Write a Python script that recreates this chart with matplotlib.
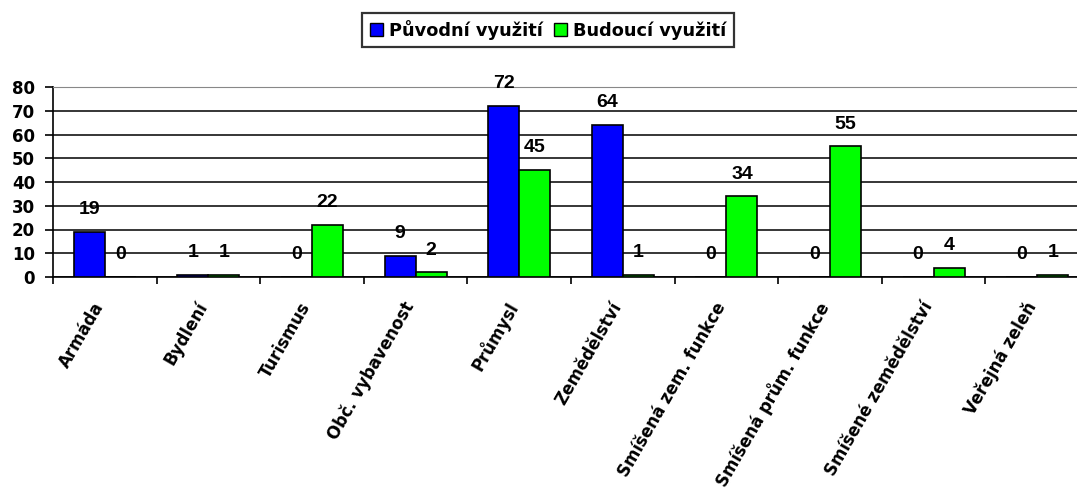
import matplotlib
matplotlib.use("Agg")
import matplotlib.pyplot as plt
import matplotlib.transforms as mtransforms
import numpy as np
from matplotlib.patches import Patch

categories = ["Armáda", "Bydlení", "Turismus", "Obč. vybavenost", "Průmysl",
              "Zemědělství", "Smíšená zem. funkce", "Smíšená prům. funkce",
              "Smíšené zemědělství", "Veřejná zeleň"]
puvodni = [19, 1, 0, 9, 72, 64, 0, 0, 0, 0]
budouci = [0, 1, 22, 2, 45, 1, 34, 55, 4, 1]
series_names = ["Původní využití", "Budoucí využití"]
yticks = [0, 10, 20, 30, 40, 50, 60, 70, 80]

plt.rcParams['font.family'] = ['DejaVu Sans']

fig = plt.figure(figsize=(10.77, 4.91), dpi=100)
ax = fig.add_axes([53/1077, 1-277/491, 1036/1077, 190/491])

x = np.arange(len(categories)) + 0.5
w = 0.3
b1 = ax.bar(x - w/2, puvodni, w, color="#0000FF", edgecolor="black", linewidth=1.2, zorder=3)
b2 = ax.bar(x + w/2, budouci, w, color="#00FF00", edgecolor="black", linewidth=1.2, zorder=3)

for bars, vals in ((b1, puvodni), (b2, budouci)):
    for r, v in zip(bars, vals):
        ax.annotate(str(v), (r.get_x() + r.get_width()/2, v), xytext=(0, 16),
                    textcoords="offset points", ha="center", va="center",
                    fontsize=14, fontweight="bold", family="Liberation Sans", zorder=4)

ax.set_xlim(0, len(categories))
ax.set_ylim(0, 80)
ax.set_yticks(yticks)
ax.set_yticklabels([str(t) for t in yticks], fontsize=12, fontweight="bold")
ax.yaxis.grid(True, color="black", linewidth=1.1, zorder=0)
ax.set_axisbelow(True)

ax.set_xticks(np.arange(len(categories) + 1))
ax.set_xticklabels([])
ax.set_xticks(x, minor=True)
ax.set_xticklabels(categories, minor=True, rotation=60, ha="right", va="center",
                   rotation_mode="anchor", fontsize=12, fontweight="bold")
ax.tick_params(axis="x", which="minor", length=0, pad=19)
ax.tick_params(axis="x", which="major", length=5, width=1.2, direction="out")
ax.tick_params(axis="y", length=6, width=1.2, direction="out", pad=7)
offset = mtransforms.ScaledTranslation(-5/100, 0, fig.dpi_scale_trans)
for lab in ax.get_xticklabels(minor=True):
    lab.set_transform(lab.get_transform() + offset)

ax.spines["top"].set_color("#888888")
ax.spines["right"].set_visible(False)
for s in ("left", "bottom"):
    ax.spines[s].set_color("black")
    ax.spines[s].set_linewidth(1.2)

handles = [Patch(facecolor="#0000FF", edgecolor="black"),
           Patch(facecolor="#00FF00", edgecolor="black")]
leg = fig.legend(handles, series_names, loc="center", bbox_to_anchor=(548/1077, 1-30/491),
                 ncol=2, frameon=True, fancybox=False, edgecolor="black",
                 prop={"weight": "bold", "size": 12.8}, handlelength=0.75, handleheight=0.75,
                 handletextpad=0.35, columnspacing=0.6, borderpad=0.4, borderaxespad=0)
leg.get_frame().set_linewidth(1.6)

fig.savefig("out.png", dpi=100)
